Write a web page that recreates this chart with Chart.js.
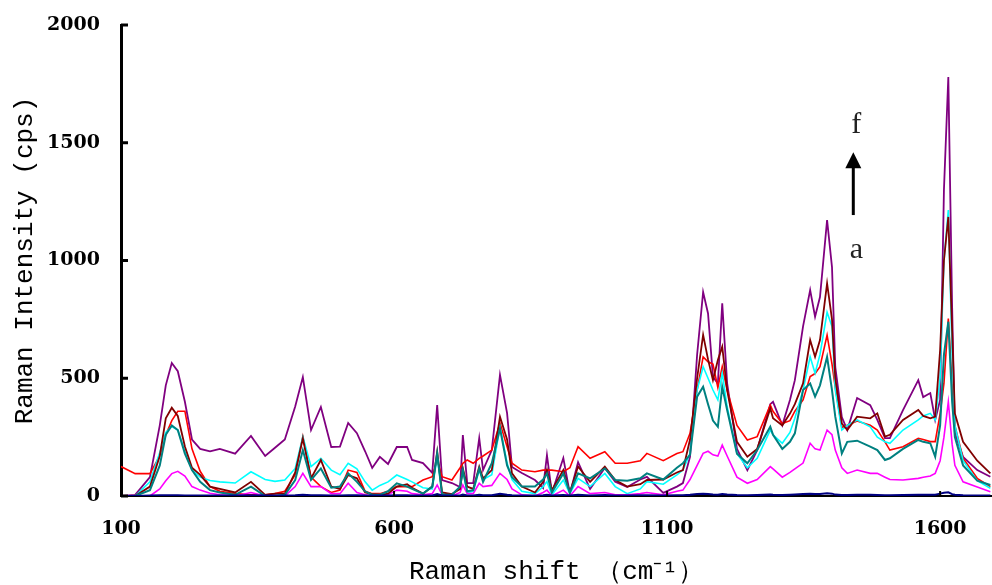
<!DOCTYPE html>
<html>
<head>
<meta charset="utf-8">
<script src="https://cdn.jsdelivr.net/npm/chart.js@4/dist/chart.umd.min.js"></script>
<style>
html,body{margin:0;padding:0;background:#fff;}
#wrap{width:992px;height:585px;position:relative;}
</style>
</head>
<body>
<div id="wrap"><canvas id="c" width="992" height="585"></canvas></div>
<script>
// Raman shift (cm-1)
const wavenumbers = [100,126,153,171,182,193,204,217,230,245,263,281,309,338,364,382,400,419,433,448,466,485,501,516,532,547,560,574,589,605,624,633,653,670,679,688,706,721,726,734,745,756,763,779,794,807,816,834,858,873,880,889,910,922,937,959,986,1005,1027,1051,1063,1093,1118,1129,1142,1155,1166,1175,1184,1193,1201,1210,1228,1247,1265,1289,1294,1311,1325,1334,1349,1362,1371,1380,1393,1402,1408,1420,1430,1448,1472,1485,1499,1508,1532,1560,1569,1582,1591,1600,1607,1615,1622,1627,1642,1668,1692];

// series f (purple)
const seriesF = [0,5,80,300,470,565,530,400,240,200,190,200,180,255,170,205,240,380,505,280,378,208,210,310,267,190,119,166,136,208,208,153,140,98,386,68,55,38,259,55,55,246,110,195,514,352,123,98,68,34,174,13,161,10,144,30,119,60,38,70,81,13,40,55,166,600,866,775,506,478,818,478,200,110,195,390,400,300,408,492,720,874,761,845,1172,972,548,335,280,416,386,323,246,246,365,492,420,437,323,408,1300,1779,800,267,166,110,82];
// series e (dark red)
const seriesE = [0,0,40,170,330,375,340,210,120,90,40,30,15,60,5,10,10,100,245,75,153,40,30,89,75,15,8,5,10,40,50,35,10,40,188,15,8,30,117,40,30,125,75,110,337,240,96,40,15,60,110,25,110,15,125,60,125,68,40,50,68,70,100,110,240,500,684,580,492,577,634,450,230,167,200,372,330,300,350,390,478,662,591,662,903,750,500,308,280,337,330,351,252,260,323,365,340,330,337,620,1000,1185,700,350,230,150,96];
// series d (red)
const seriesD = [125,95,95,170,260,320,360,360,200,105,40,20,10,5,5,10,20,90,252,80,40,15,25,110,100,20,10,10,20,40,40,40,68,82,153,82,68,120,139,153,139,160,170,195,310,209,139,110,103,110,110,110,103,120,209,160,188,139,139,150,181,150,180,188,266,450,591,570,560,460,549,450,300,238,252,386,360,308,320,360,408,507,520,549,683,560,460,290,300,318,300,280,230,195,209,245,240,231,231,350,478,754,478,300,160,75,40];
// series c (cyan)
const seriesC = [0,0,60,185,270,295,280,190,110,80,66,60,55,103,70,62,68,117,252,125,160,110,90,139,115,60,25,45,60,89,70,60,35,30,167,10,5,40,110,15,20,110,70,90,294,140,70,20,10,40,61,5,68,10,75,40,96,40,10,30,61,50,90,110,180,450,549,500,450,408,521,379,180,120,160,280,260,224,270,330,450,591,521,600,780,720,450,280,300,323,294,250,230,224,280,323,340,351,323,500,1000,1214,600,300,150,65,33];
// series b (teal)
const seriesB = [0,0,25,130,260,300,280,180,110,60,25,15,5,40,0,0,5,68,195,68,117,35,40,96,60,20,5,5,20,54,40,30,10,40,181,5,5,40,110,20,25,117,60,139,287,130,80,40,40,70,96,15,96,15,96,75,117,68,65,75,96,70,120,139,175,422,464,390,320,294,464,365,180,139,195,294,260,200,230,266,450,478,422,470,591,450,337,181,230,235,210,195,153,160,200,238,230,224,167,300,600,740,400,250,130,65,47];
// series a (magenta)
const seriesA = [0,0,0,30,65,95,105,85,40,25,12,5,0,15,0,0,0,40,96,40,40,10,10,54,15,5,0,0,5,25,20,10,5,10,47,5,0,15,47,10,10,54,40,45,96,70,30,5,0,15,25,0,25,0,40,10,15,5,5,10,15,5,20,25,70,130,181,190,175,170,216,170,80,54,70,125,115,80,100,115,140,224,200,195,280,260,195,120,96,110,96,96,80,70,68,75,80,85,96,150,250,400,220,130,60,38,18];
// blank (navy)
const seriesBlank = [0,0,2,3,3,3,3,2,2,2,2,2,2,3,2,2,2,3,5,3,3,2,2,3,3,2,2,2,2,3,3,2,2,2,8,2,2,2,6,2,2,5,3,3,10,5,3,2,2,3,5,2,4,2,5,2,4,2,2,3,3,2,3,3,5,8,10,8,6,5,8,6,4,3,4,6,5,4,5,6,8,10,8,9,12,10,6,4,4,5,5,4,3,3,4,5,5,5,5,10,14,16,8,5,3,2,2];

const xTickValues = [100,600,1100,1600];
const yTickValues = [0,500,1000,1500,2000];

const seriesList = [
  {label:'blank', data:seriesBlank, color:'#000080', w:2},
  {label:'b', data:seriesB, color:'#008080', w:2},
  {label:'e', data:seriesE, color:'#800000', w:1.8},
  {label:'a', data:seriesA, color:'#FF00FF', w:1.6},
  {label:'c', data:seriesC, color:'#00FFFF', w:1.6},
  {label:'d', data:seriesD, color:'#FF0000', w:1.6},
  {label:'f', data:seriesF, color:'#800080', w:1.8}
];

const datasets = seriesList.map(s => ({
  label: s.label,
  data: wavenumbers.map((x,i) => ({x:x, y:s.data[i]})),
  borderColor: s.color,
  backgroundColor: s.color,
  borderWidth: s.w,
  pointRadius: 0,
  tension: 0,
  fill: false
}));

const annot = {fX:1441, fY:1575, arrowTop:1460, arrowBottom:1193, aY:1044};

const extras = {
  id:'extras',
  afterDraw(chart){
    const ctx = chart.ctx;
    const xs = chart.scales.x, ys = chart.scales.y;
    ctx.save();
    ctx.strokeStyle = '#000';
    ctx.lineWidth = 3;
    yTickValues.forEach(v => {
      const y = ys.getPixelForValue(v);
      ctx.beginPath(); ctx.moveTo(xs.left, y); ctx.lineTo(xs.left + 7, y); ctx.stroke();
    });
    ctx.lineWidth = 2;
    xTickValues.forEach(v => {
      const x = xs.getPixelForValue(v);
      ctx.beginPath(); ctx.moveTo(x, ys.bottom); ctx.lineTo(x, ys.bottom - 5); ctx.stroke();
    });
    const ax = xs.getPixelForValue(annot.fX);
    ctx.fillStyle = '#222';
    ctx.textAlign = 'center';
    ctx.textBaseline = 'alphabetic';
    ctx.font = '30px "Liberation Serif"';
    ctx.fillText('f', ax + 3, ys.getPixelForValue(annot.fY) + 8);
    ctx.fillText('a', ax + 3, ys.getPixelForValue(annot.aY) + 8);
    const tTop = ys.getPixelForValue(annot.arrowTop);
    const tBot = ys.getPixelForValue(annot.arrowBottom);
    ctx.lineWidth = 3;
    ctx.beginPath(); ctx.moveTo(ax, tBot); ctx.lineTo(ax, tTop + 14); ctx.stroke();
    ctx.fillStyle = '#000';
    ctx.beginPath(); ctx.moveTo(ax, tTop); ctx.lineTo(ax - 8, tTop + 16); ctx.lineTo(ax + 8, tTop + 16); ctx.closePath(); ctx.fill();
    ctx.restore();
  }
};

new Chart(document.getElementById('c'), {
  type:'line',
  data:{datasets},
  options:{
    responsive:false,
    animation:false,
    events:[],
    layout:{padding:{top:25, right:0, left:0, bottom:0}},
    plugins:{legend:{display:false}, tooltip:{enabled:false}},
    scales:{
      x:{
        type:'linear', min:100, max:1695,
        afterBuildTicks(s){ s.ticks = xTickValues.map(v => ({value:v})); },
        afterFit(s){ s.height = 89; s.paddingLeft = 0; s.paddingRight = 0; },
        grid:{display:false, drawTicks:false},
        border:{display:true, color:'#000', width:2},
        ticks:{color:'#000', padding:22, maxRotation:0, autoSkip:false,
          callback:(v) => String(v),
          font:{family:'"DejaVu Serif"', size:19, weight:'bold'}},
        title:{display:true, text:'Raman shift （cm⁻¹）', color:'#000',
          font:{family:'"Liberation Mono"', size:26, lineHeight:1}, padding:{top:0,bottom:0}}
      },
      y:{
        type:'linear', min:0, max:2000,
        afterBuildTicks(s){ s.ticks = yTickValues.map(v => ({value:v})); },
        afterFit(s){ s.width = 121; s.paddingTop = 0; s.paddingBottom = 0; },
        grid:{display:false, drawTicks:false},
        border:{display:true, color:'#000', width:3},
        ticks:{color:'#000', padding:21,
          callback:(v) => String(v),
          font:{family:'"DejaVu Serif"', size:19, weight:'bold'}},
        title:{display:true, text:'Raman Intensity (cps)', color:'#000',
          font:{family:'"Liberation Mono"', size:26, lineHeight:1}, padding:{top:12,bottom:0}}
      }
    }
  },
  plugins:[extras]
});
</script>
</body>
</html>
